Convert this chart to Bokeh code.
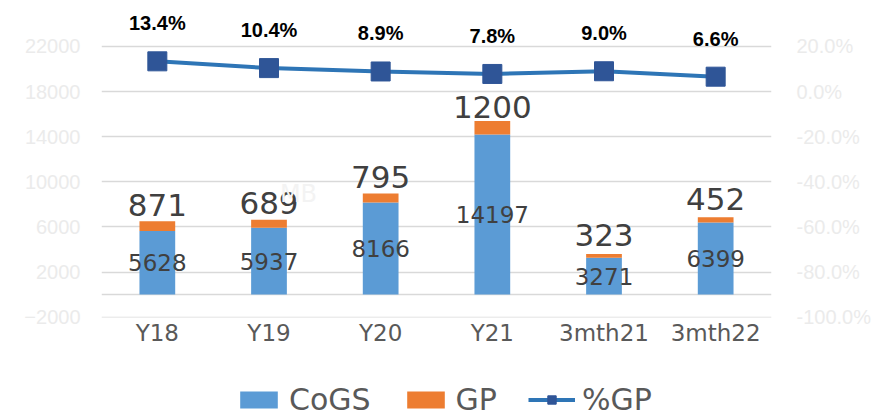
from bokeh.plotting import figure
from bokeh.layouts import column
from bokeh.models import (ColumnDataSource, FactorRange, LinearAxis, Range1d, FixedTicker,
                          NumeralTickFormatter, Span, Legend, LegendItem, Label)
from bokeh.core.properties import value
from bokeh.embed import file_html
from bokeh.resources import INLINE

# ---- data ----
categories = ["Y18", "Y19", "Y20", "Y21", "3mth21", "3mth22"]
cogs = [5628, 5937, 8166, 14197, 3271, 6399]
gp = [871, 689, 795, 1200, 323, 452]
gp_pct = [0.134, 0.104, 0.089, 0.078, 0.090, 0.066]
left_ticks = [-2000, 2000, 6000, 10000, 14000, 18000, 22000]
right_ticks = [-1.0, -0.8, -0.6, -0.4, -0.2, 0.0, 0.2]

# ---- layout constants ----
W, H = 877, 360
LEG_H = 58
MB_TOP, MB_BOTTOM, MB_LEFT, MB_RIGHT = 8, 43, 101, 106
FRAME_H = H - MB_TOP - MB_BOTTOM
PX_PER_UNIT = 45.12 / 4000.0
Y_START = -2030.0
Y_END = Y_START + FRAME_H / PX_PER_UNIT

BLUE, ORANGE, LINE_BLUE, MARK_BLUE = "#5b9bd5", "#ed7d31", "#2e75b6", "#2f5597"


def to_pct(v):
    return (v - 22000.0) / 24000.0 * 1.2 + 0.2


src = ColumnDataSource(dict(
    cat=categories, cogs=cogs, gp=gp, pct=gp_pct,
    cogs_mid=[c / 2.0 for c in cogs],
    gp_mid=[c + g / 2.0 for c, g in zip(cogs, gp)],
    cogs_txt=[str(c) for c in cogs],
    gp_txt=[str(g) for g in gp],
    pct_txt=[f"{v * 100:.1f}%" for v in gp_pct],
))

p = figure(x_range=FactorRange(factors=categories, range_padding=0),
           y_range=Range1d(Y_START, Y_END),
           width=W, height=H, output_backend="svg", toolbar_location=None,
           min_border_top=MB_TOP, min_border_bottom=MB_BOTTOM,
           min_border_left=MB_LEFT, min_border_right=MB_RIGHT)
p.extra_y_ranges = {"pct": Range1d(to_pct(Y_START), to_pct(Y_END))}
p.outline_line_color = None
p.background_fill_color = "white"
p.border_fill_color = "white"

# stacked bars
p.vbar_stack(["cogs", "gp"], x="cat", width=0.32, source=src,
             color=[BLUE, ORANGE], line_color=None)

# zero line
p.add_layout(Span(location=0, dimension="width", line_color="#d9d9d9",
                  line_width=1.5, level="underlay"))

# line with markers on secondary axis
p.line(x="cat", y="pct", source=src, y_range_name="pct",
       line_color=LINE_BLUE, line_width=4)
p.scatter(x="cat", y="pct", source=src, y_range_name="pct",
          marker="square", size=19, fill_color=MARK_BLUE, line_color=MARK_BLUE)

# data labels
p.text(x="cat", y="cogs_mid", text="cogs_txt", source=src,
       text_font=value("DejaVu Sans"), text_font_size="23px",
       text_color="#404040", text_align="center", text_baseline="middle")
p.text(x="cat", y="gp_mid", text="gp_txt", source=src, y_offset=-21,
       text_font=value("DejaVu Sans"), text_font_size="31px",
       text_color="#404040", text_align="center", text_baseline="middle")
p.text(x="cat", y="pct", text="pct_txt", source=src, y_range_name="pct",
       y_offset=-38, text_font=value("Liberation Sans"), text_font_size="20px",
       text_font_style="bold", text_color="#000000",
       text_align="center", text_baseline="middle")

# faint watermark
p.add_layout(Label(x=197, y=124, x_units="screen", y_units="screen", text="MB",
                   text_font="DejaVu Sans", text_font_size="24px",
                   text_color="#f3f3f3", text_align="center",
                   text_baseline="middle"))

# axes
p.xaxis.axis_line_color = None
p.xaxis.major_tick_line_color = None
p.xaxis.minor_tick_line_color = None
p.xaxis.major_label_text_font = "DejaVu Sans"
p.xaxis.major_label_text_font_size = "23px"
p.xaxis.major_label_text_color = "#595959"
p.xaxis.major_label_standoff = -4
p.xgrid.grid_line_color = None

p.yaxis.ticker = FixedTicker(ticks=left_ticks)
p.yaxis.axis_line_color = None
p.yaxis.major_tick_line_color = None
p.yaxis.minor_tick_line_color = None
p.yaxis.major_label_text_font = "Liberation Sans"
p.yaxis.major_label_text_font_size = "20px"
p.yaxis.major_label_text_color = "#ebebeb"
p.yaxis.major_label_standoff = 15
p.ygrid.ticker = FixedTicker(ticks=left_ticks)
p.ygrid.grid_line_color = "#d9d9d9"
p.ygrid.grid_line_width = 1.5

right = LinearAxis(y_range_name="pct", ticker=FixedTicker(ticks=right_ticks),
                   formatter=NumeralTickFormatter(format="0.0%"))
right.axis_line_color = None
right.major_tick_line_color = None
right.minor_tick_line_color = None
right.major_label_text_font = "Liberation Sans"
right.major_label_text_font_size = "20px"
right.major_label_text_color = "#ebebeb"
right.major_label_standoff = 19
p.add_layout(right, "right")

# ---- legend strip (separate figure; its glyph renderers are hidden so
#      only the legend shows) ----
q = figure(width=W, height=LEG_H, output_backend="svg", toolbar_location=None,
           x_range=FactorRange(factors=categories), y_range=Range1d(-2, -1),
           x_axis_location=None, y_axis_location=None,
           min_border=0, outline_line_color=None)
q.grid.visible = False
r_cogs = q.vbar(x="cat", top="cogs", width=0.32, source=src, color=BLUE, line_color=None)
r_gp = q.vbar(x="cat", top="gp", width=0.32, source=src, color=ORANGE, line_color=None)
r_line = q.line(x="cat", y="pct", source=src, line_color=LINE_BLUE, line_width=4)
r_mark = q.scatter(x="cat", y="pct", source=src, marker="square", size=19,
                   fill_color=MARK_BLUE, line_color=MARK_BLUE)
for r in (r_cogs, r_gp, r_line, r_mark):
    r.visible = False

legend = Legend(items=[
    LegendItem(label="CoGS", renderers=[r_cogs]),
    LegendItem(label="GP", renderers=[r_gp]),
    LegendItem(label="%GP", renderers=[r_line, r_mark]),
], location=(134, 1), orientation="horizontal",
    glyph_width=47, glyph_height=21, label_standoff=7, spacing=31,
    padding=0, margin=0, border_line_color=None, background_fill_alpha=0,
    label_text_font="DejaVu Sans", label_text_font_size="30px",
    label_text_color="#595959")
q.add_layout(legend)

layout = column(p, q, spacing=0)
open("out.html", "w").write(file_html(layout, INLINE))
